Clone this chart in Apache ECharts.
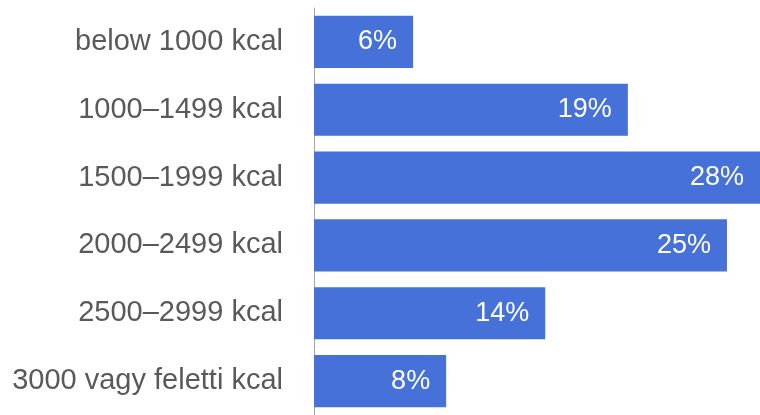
<!DOCTYPE html>
<html>
<head>
<meta charset="utf-8">
<script src="https://cdn.jsdelivr.net/npm/echarts@6/dist/echarts.min.js"></script>
<style>
  html, body { margin: 0; padding: 0; background: #ffffff; }
  #chart { width: 760px; height: 415px; }
</style>
</head>
<body>
<div id="chart"></div>
<script>
// Daily energy intake bands and share of respondents (%)
const categories = [
  'below 1000 kcal',
  '1000–1499 kcal',
  '1500–1999 kcal',
  '2000–2499 kcal',
  '2500–2999 kcal',
  '3000 vagy feletti kcal'
];
const shares = [6, 19, 28, 25, 14, 8];

const chart = echarts.init(document.getElementById('chart'), null, { renderer: 'canvas' });

chart.setOption({
  animation: false,
  grid: { left: 314, right: -7, top: 8, bottom: -7, containLabel: false },
  xAxis: {
    type: 'value',
    min: 0,
    max: 27,
    show: false,
    splitLine: { show: false }
  },
  yAxis: {
    type: 'category',
    data: categories,
    inverse: true,
    axisTick: { show: false },
    axisLine: { show: true, lineStyle: { color: '#a6a6a6', width: 1 } },
    axisLabel: {
      color: '#595959',
      fontFamily: 'Liberation Sans, Arial, sans-serif',
      fontSize: 29,
      margin: 31
    }
  },
  series: [{
    type: 'bar',
    data: shares,
    barCategoryGap: '23%',
    clip: true,
    itemStyle: { color: '#4571d9' },
    label: {
      show: true,
      position: 'insideRight',
      distance: 16,
      formatter: '{c}%',
      color: '#ffffff',
      fontFamily: 'Liberation Sans, Arial, sans-serif',
      fontSize: 27
    }
  }]
});
</script>
</body>
</html>
